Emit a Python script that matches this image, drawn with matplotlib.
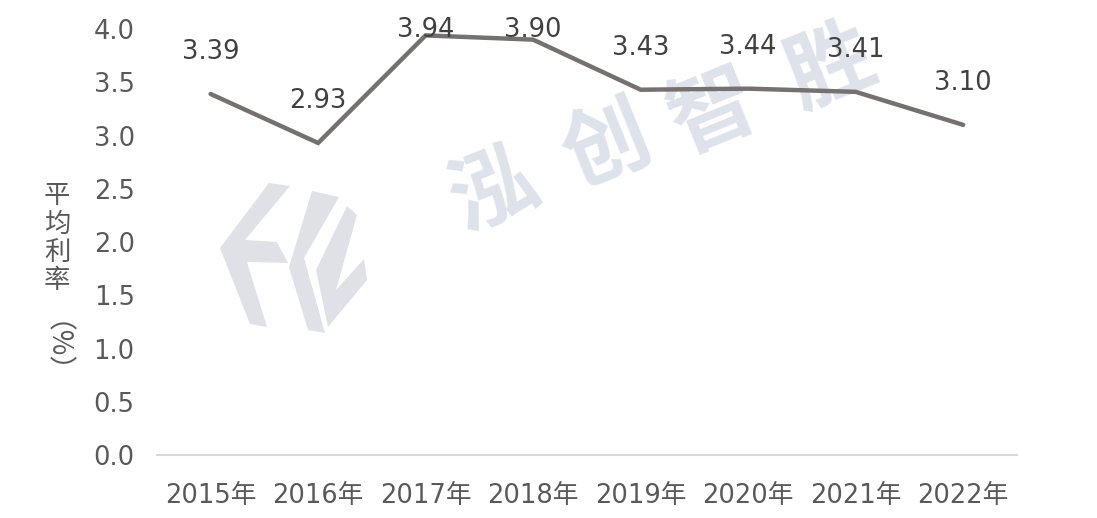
import matplotlib
matplotlib.use("Agg")
import matplotlib.pyplot as plt
from matplotlib.patches import Polygon

plt.rcParams['font.family'] = ['DejaVu Sans', 'Noto Sans CJK SC']

years = ["2015年", "2016年", "2017年", "2018年", "2019年", "2020年", "2021年", "2022年"]
rates = [3.39, 2.93, 3.94, 3.90, 3.43, 3.44, 3.41, 3.10]
yticks = [0.0, 0.5, 1.0, 1.5, 2.0, 2.5, 3.0, 3.5, 4.0]

text_color = "#595959"
line_color = "#767171"
mark_color = "#dee2eb"
logo_color = "#e0e1e7"

W, H = 1097, 518
fig = plt.figure(figsize=(W / 100, H / 100), dpi=100)
ax = fig.add_axes([0.143, 0.1216, 0.784, 0.8224])


def px(points):
    # pixel coords (from top-left) -> figure fraction
    return [(p[0] / W, 1 - p[1] / H) for p in points]


# watermark logo (rough outline)
logo_parts = [
    [(269, 183), (290, 186), (245, 240), (277, 242), (288, 263), (247, 262),
     (267, 327), (250, 324), (220, 248)],
    [(312, 191), (339, 197), (304, 258), (325, 333), (308, 330), (289, 267)],
    [(347, 206), (357, 215), (336, 290), (364, 259), (367, 280), (328, 327), (316, 270)],
]
for part in logo_parts:
    ax.add_patch(Polygon(px(part), closed=True, transform=fig.transFigure,
                         facecolor=logo_color, edgecolor='none', zorder=0, clip_on=False))

# watermark text
for ch, (cx, cy) in zip("泓创智胜", [(495, 192), (607, 147), (713, 113), (831, 68)]):
    ax.text(cx / W, 1 - cy / H, ch, transform=fig.transFigure, rotation=22,
            fontsize=62, color=mark_color, family=['Noto Sans CJK SC'],
            fontweight='bold', ha='center', va='center', zorder=0)

x = list(range(len(years)))
ax.plot(x, rates, color=line_color, linewidth=3.2, solid_capstyle='round',
        solid_joinstyle='miter', zorder=3)

for i, v in enumerate(rates):
    ly = min(v + 0.395, 3.99)
    ax.text(i, ly, f"{v:.2f}", ha='center', va='center', fontsize=18.5,
            color="#404040", zorder=4)

ax.set_xlim(-0.5, len(years) - 0.5)
ax.set_ylim(0, 4.0)
ax.set_xticks(x)
ax.set_xticklabels(years)
ax.set_yticks(yticks)
ax.set_yticklabels([f"{t:.1f}" for t in yticks])
ax.tick_params(axis='both', length=0, labelsize=18.5, labelcolor=text_color)
ax.tick_params(axis='y', pad=16)
ax.tick_params(axis='x', pad=20)

for s in ['top', 'right', 'left']:
    ax.spines[s].set_visible(False)
ax.spines['bottom'].set_color("#d9d9d9")
ax.spines['bottom'].set_linewidth(1.5)

fig.text(57 / W, 1 - 238 / H, "平\n均\n利\n率", fontsize=19, color=text_color,
         family=['Noto Sans CJK SC'], ha='center', va='center', linespacing=1.05)
fig.text(40 / W, 1 - 362 / H, "（%）", fontsize=20, color=text_color, rotation=-90,
         family=['Noto Sans CJK SC'], ha='center', va='center')

fig.savefig("out.png", dpi=100)
